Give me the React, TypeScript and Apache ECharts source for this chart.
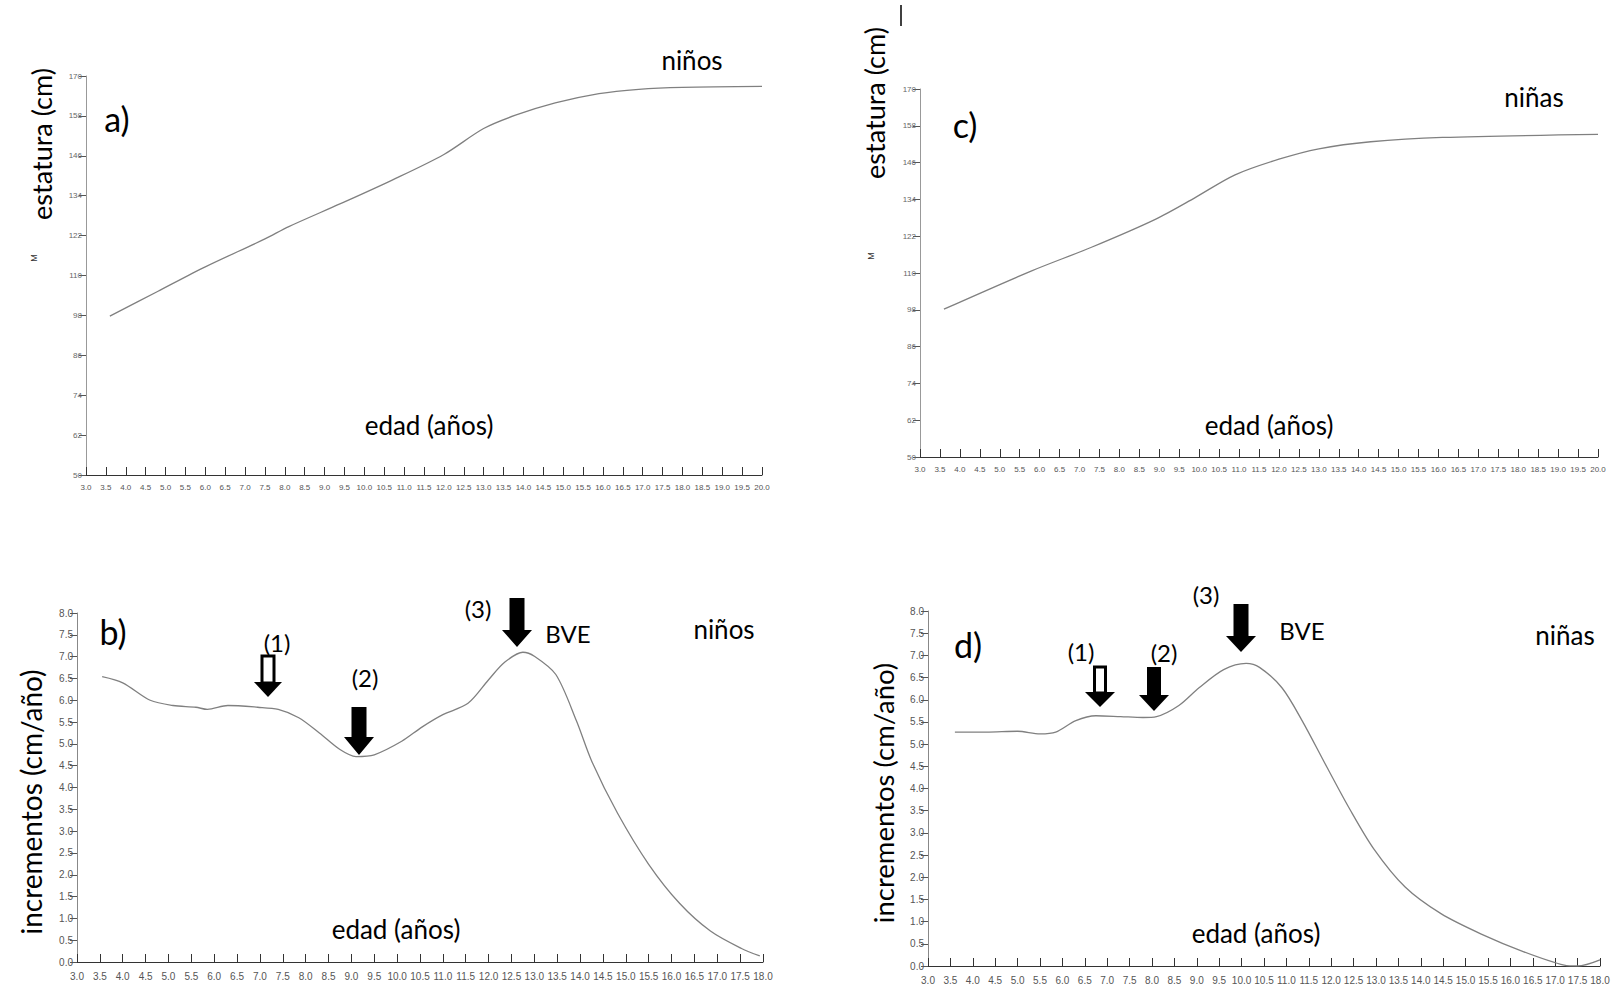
import React, { useEffect, useRef } from "react";
import * as echarts from "echarts";

// ---- data ----
const heightTicks = [50, 62, 74, 86, 98, 110, 122, 134, 146, 158, 170];

const boysAge = [3.6, 4.8, 6.0, 7.5, 8.1, 9.4, 10.7, 12.0, 13.0, 13.8, 14.8, 15.9, 16.9, 18.0, 20.0];
const boysHeight = [97.8, 105.2, 112.6, 121.0, 124.7, 131.6, 138.7, 146.4, 154.2, 158.2, 161.9, 164.7, 166.0, 166.6, 166.9];

const girlsAge = [3.6, 5.8, 7.3, 8.9, 9.9, 10.9, 12.0, 13.0, 14.3, 16.1, 20.0];
const girlsHeight = [98.2, 110.7, 118.4, 127.5, 134.6, 142.0, 147.1, 150.5, 152.8, 154.2, 155.2];

const boysVelAge = [3.55, 4.0, 4.6, 5.1, 5.6, 5.85, 6.3, 6.95, 7.4, 7.85, 8.3, 8.75, 9.1, 9.5, 10.1, 10.55, 11.0, 11.55, 12.0, 12.35, 12.75, 13.0, 13.47, 13.92, 14.26, 14.82, 15.5, 16.18, 16.85, 17.53, 17.93];
const boysVel = [6.54, 6.4, 6.0, 5.88, 5.84, 5.79, 5.88, 5.84, 5.79, 5.6, 5.25, 4.87, 4.71, 4.75, 5.06, 5.39, 5.67, 5.93, 6.47, 6.87, 7.1, 7.01, 6.59, 5.53, 4.59, 3.41, 2.24, 1.34, 0.71, 0.31, 0.14];

const girlsVelAge = [3.6, 4.3, 5.0, 5.5, 5.85, 6.3, 6.75, 7.3, 7.8, 8.1, 8.6, 9.05, 9.6, 10.1, 10.4, 10.9, 11.35, 11.9, 12.4, 12.95, 13.65, 14.45, 15.35, 16.3, 17.2, 17.5, 18.0];
const girlsVel = [5.27, 5.27, 5.29, 5.23, 5.27, 5.53, 5.64, 5.62, 5.6, 5.62, 5.87, 6.27, 6.68, 6.82, 6.73, 6.27, 5.53, 4.49, 3.56, 2.64, 1.78, 1.18, 0.72, 0.32, 0.02, 0.0, 0.14];

const zip = (xs: number[], ys: number[]) => xs.map((x, i) => [x, ys[i]]);

const TICK_FONT = "'Liberation Sans Narrow', 'Liberation Sans', Arial, sans-serif";
const TEXT_FONT = "Lato, 'Open Sans', sans-serif";

function xAxis(gridIndex: number, max: number, fontSize: number, margin: number) {
  return {
    type: "value",
    gridIndex,
    min: 3,
    max,
    interval: 0.5,
    axisLine: { show: true, onZero: false, lineStyle: { color: "#333", width: 1 } },
    axisTick: { show: true, inside: true, length: 8, lineStyle: { color: "#333", width: 1 } },
    axisLabel: {
      showMinLabel: true,
      showMaxLabel: true,
      formatter: (v: number) => v.toFixed(1),
      fontSize,
      color: "#555",
      margin,
      fontFamily: TICK_FONT,
    },
    splitLine: { show: false },
  };
}

function yAxisHeight(gridIndex: number) {
  return {
    type: "value",
    gridIndex,
    min: 50,
    max: 170,
    axisLine: { show: true, onZero: false, lineStyle: { color: "#999", width: 1 } },
    axisTick: { show: true, length: 7, customValues: heightTicks, lineStyle: { color: "#555" } },
    axisLabel: {
      customValues: heightTicks,
      fontSize: 8,
      color: "#666",
      margin: 4,
      fontFamily: TICK_FONT,
    },
    splitLine: { show: false },
  };
}

function yAxisVel(gridIndex: number) {
  return {
    type: "value",
    gridIndex,
    min: 0,
    max: 8,
    interval: 0.5,
    axisLine: { show: true, onZero: false, lineStyle: { color: "#888", width: 1 } },
    axisTick: { show: true, length: 7, lineStyle: { color: "#555" } },
    axisLabel: {
      showMinLabel: true,
      showMaxLabel: true,
      formatter: (v: number) => v.toFixed(1),
      fontSize: 10,
      color: "#555",
      margin: 4,
      fontFamily: TICK_FONT,
    },
    splitLine: { show: false },
  };
}

function lineSeries(idx: number, data: number[][]) {
  return {
    type: "line",
    xAxisIndex: idx,
    yAxisIndex: idx,
    data,
    smooth: 0.3,
    showSymbol: false,
    symbol: "none",
    lineStyle: { color: "#808080", width: 1.3 },
    itemStyle: { color: "#808080" },
  };
}

function txt(text: string, x: number, y: number, size: number, rotation = 0) {
  return {
    type: "text",
    x,
    y,
    rotation,
    z: 10,
    style: {
      text,
      fill: "#000",
      fontSize: size,
      fontFamily: TEXT_FONT,
      align: "center",
      textAlign: "center",
      verticalAlign: "middle",
      textVerticalAlign: "middle",
    },
  };
}

function smallTxt(text: string, x: number, y: number) {
  return {
    type: "text",
    x,
    y,
    rotation: Math.PI / 2,
    z: 10,
    style: {
      text,
      fill: "#333",
      fontSize: 9,
      fontFamily: TICK_FONT,
      align: "center",
      textAlign: "center",
      verticalAlign: "middle",
      textVerticalAlign: "middle",
    },
  };
}

function solidArrow(cx: number, top: number, headStart: number, tip: number, shaftW: number, headW: number) {
  const w = shaftW / 2;
  const h = headW / 2;
  return {
    type: "polygon",
    z: 10,
    shape: {
      points: [
        [cx - w, top],
        [cx + w, top],
        [cx + w, headStart],
        [cx + h, headStart],
        [cx, tip],
        [cx - h, headStart],
        [cx - w, headStart],
      ],
    },
    style: { fill: "#000" },
  };
}

function hollowArrow(cx: number, top: number, headStart: number, tip: number, shaftW: number, headW: number) {
  const w = shaftW / 2;
  const h = headW / 2;
  return {
    type: "group",
    z: 10,
    children: [
      {
        type: "rect",
        shape: { x: cx - w, y: top, width: shaftW, height: headStart - top + 1 },
        style: { fill: "#fff", stroke: "#000", lineWidth: 3 },
      },
      {
        type: "polygon",
        shape: {
          points: [
            [cx + h, headStart],
            [cx, tip],
            [cx - h, headStart],
          ],
        },
        style: { fill: "#000" },
      },
    ],
  };
}

export default function App() {
  const ref = useRef<HTMLDivElement>(null);

  useEffect(() => {
    document.body.style.margin = "0";
    if (!ref.current) return;
    const chart = echarts.init(ref.current, undefined, { renderer: "svg" });

    const option = {
      animation: false,
      backgroundColor: "#fff",
      grid: [
        { left: 86, top: 76, width: 676, height: 399 },
        { left: 77, top: 613, width: 686, height: 349 },
        { left: 920, top: 89, width: 678, height: 368 },
        { left: 928, top: 611, width: 672, height: 356 },
      ],
      xAxis: [
        xAxis(0, 20, 8, 8),
        xAxis(1, 18, 10, 9),
        xAxis(2, 20, 8, 8),
        xAxis(3, 18, 10, 9),
      ],
      yAxis: [yAxisHeight(0), yAxisVel(1), yAxisHeight(2), yAxisVel(3)],
      series: [
        lineSeries(0, zip(boysAge, boysHeight)),
        lineSeries(1, zip(boysVelAge, boysVel)),
        lineSeries(2, zip(girlsAge, girlsHeight)),
        lineSeries(3, zip(girlsVelAge, girlsVel)),
      ],
      graphic: [
        // panel a
        txt("estatura (cm)", 41, 144, 27, Math.PI / 2),
        smallTxt("M", 34, 258),
        txt("a)", 117, 118, 34),
        txt("niños", 692, 60, 26),
        txt("edad (años)", 429, 425, 26),
        // panel c
        txt("estatura (cm)", 874, 103, 27, Math.PI / 2),
        smallTxt("M", 871, 256),
        txt("c)", 965, 124, 34),
        txt("niñas", 1534, 97, 26),
        txt("edad (años)", 1269, 425, 26),
        {
          type: "line",
          z: 10,
          shape: { x1: 901, y1: 5, x2: 901, y2: 26 },
          style: { stroke: "#000", lineWidth: 1.5 },
        },
        // panel b
        txt("incrementos (cm/año)", 31, 802, 28, Math.PI / 2),
        txt("b)", 113, 631, 34),
        txt("niños", 724, 629, 26),
        txt("edad (años)", 396, 929, 26),
        txt("(1)", 277, 642, 24),
        txt("(2)", 365, 677, 24),
        txt("(3)", 478, 608, 24),
        txt("BVE", 568, 633, 24),
        hollowArrow(268, 656, 682, 697, 12, 28),
        solidArrow(359, 707, 737, 755, 15, 30),
        solidArrow(517, 598, 630, 647, 15, 30),
        // panel d
        txt("incrementos (cm/año)", 883, 793, 27.5, Math.PI / 2),
        txt("d)", 968, 644, 34),
        txt("niñas", 1565, 635, 26),
        txt("edad (años)", 1256, 933, 26),
        txt("(1)", 1081, 651, 24),
        txt("(2)", 1164, 652, 24),
        txt("(3)", 1206, 594, 24),
        txt("BVE", 1302, 630, 24),
        hollowArrow(1100, 667, 692, 707, 11, 30),
        solidArrow(1154, 667, 695, 711, 14, 30),
        solidArrow(1241, 604, 636, 652, 15, 30),
      ],
    };

    chart.setOption(option as any);
    return () => chart.dispose();
  }, []);

  return <div ref={ref} style={{ width: 1614, height: 985 }} />;
}
